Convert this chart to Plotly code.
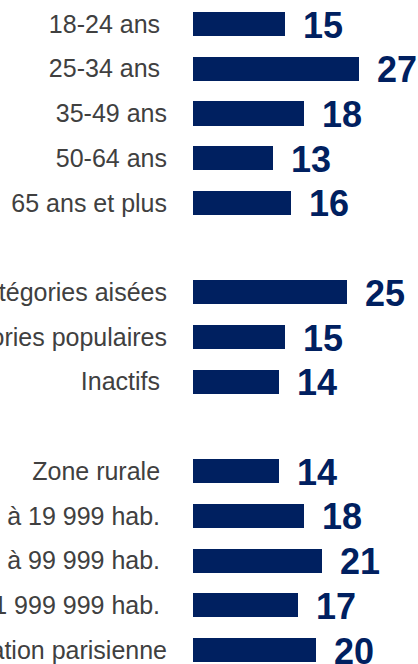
import plotly.graph_objects as go

BAR_COLOR = "#002060"
LABEL_COLOR = "#404040"
WIDTH = 418
HEIGHT = 664

# categories (trailing nbsp kept as in the source labels)
age_labels = ["18-24 ans\u00a0", "25-34 ans\u00a0", "35-49 ans", "50-64 ans", "65 ans et plus"]
age_values = [15, 27, 18, 13, 16]

csp_labels = ["Catégories aisées", "Catégories populaires", "Inactifs\u00a0"]
csp_values = [25, 15, 14]

agglo_labels = ["Zone rurale\u00a0", "2 000 à 19 999 hab.\u00a0", "20 000 à 99 999 hab.\u00a0",
                "100 000 à 1 999 999 hab.\u00a0", "Agglomération parisienne"]
agglo_values = [14, 18, 21, 17, 20]

# one blank row between the groups
labels = age_labels + [" "] + csp_labels + ["  "] + agglo_labels
values = age_values + [None] + csp_values + [None] + agglo_values

fig = go.Figure()
fig.add_trace(go.Bar(
    x=values,
    y=labels,
    orientation="h",
    width=0.54,
    marker=dict(color=BAR_COLOR, line=dict(width=0)),
    hoverinfo="skip",
))

for lab, val in zip(labels, values):
    if val is None:
        continue
    fig.add_annotation(
        x=val, y=lab, text=str(val),
        xanchor="left", yanchor="middle", xshift=16, yshift=-1,
        showarrow=False,
        font=dict(family="Arial, Liberation Sans", size=36, color=BAR_COLOR, weight="bold"),
    )

fig.update_layout(
    width=WIDTH,
    height=HEIGHT,
    margin=dict(l=193, r=0, t=0, b=0, autoexpand=False),
    plot_bgcolor="white",
    paper_bgcolor="white",
    showlegend=False,
    bargap=0,
    xaxis=dict(range=[0, 225 / 6.15], visible=False, fixedrange=True),
    yaxis=dict(
        type="category",
        categoryorder="array",
        categoryarray=labels,
        range=[14.313, -0.537],
        showgrid=False,
        zeroline=False,
        showline=False,
        ticks="",
        ticklabelstandoff=25,
        automargin=False,
        tickfont=dict(family="Arial, Liberation Sans", size=25, color=LABEL_COLOR),
    ),
)

fig.write_html("out.html", config={"displayModeBar": False},
               post_script="document.body.style.margin='0';")
